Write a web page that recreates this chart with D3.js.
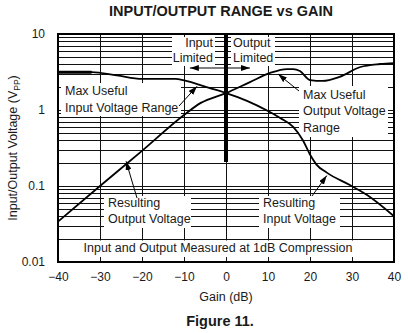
<!DOCTYPE html>
<html>
<head>
<meta charset="utf-8">
<script src="https://cdn.jsdelivr.net/npm/d3@7/dist/d3.min.js"></script>
<style>
  body { margin: 0; background: #fff; }
  svg { display: block; }
  text { font-family: "Liberation Sans", Arial, Helvetica, sans-serif; fill: #1a1a1a; }
</style>
</head>
<body>
<svg id="chart" width="408" height="333"></svg>
<script>
// Axis ticks
const gainTicks = [-40, -30, -20, -10, 0, 10, 20, 30, 40];
const voltTicks = [0.01, 0.1, 1, 10];
const voltTickLabels = ["0.01", "0.1", "1", "10"];

// Max useful input range (input limited) / resulting input (output limited), V_PP vs gain dB
const inputGain  = [-40, -32, -26, -20, -12, -10, -4, 0, 5, 10, 13, 16, 18.3, 20, 21.6, 24, 29.5, 33.6, 40];
const inputVolts = [3.15, 3.15, 2.85, 2.56, 2.56, 2.45, 1.95, 1.67, 1.32, 0.97, 0.78, 0.60, 0.40, 0.26, 0.19, 0.15, 0.103, 0.076, 0.040];

// Resulting output (input limited) / max useful output range (output limited)
const outputGain  = [-40, -30, -20, -10, -6, 0, 5.7, 10.5, 14.5, 16, 17.6, 20, 23, 27, 32, 36.7, 40];
const outputVolts = [0.034, 0.10, 0.29, 0.86, 1.24, 1.67, 2.33, 3.07, 3.46, 3.46, 3.26, 2.48, 2.41, 2.72, 3.68, 4.03, 4.15];

const svg = d3.select("#chart");
const L = 58, R = 394, T = 34, B = 262;

const x = d3.scaleLinear().domain([-40, 40]).range([L, R]);
const y = d3.scaleLog().domain([0.01, 10]).range([B, T]);

// Title
svg.append("text").attr("x", 221).attr("y", 15.5).attr("text-anchor", "middle")
  .style("font-weight", "bold").style("font-size", "14.5px")
  .text("INPUT/OUTPUT RANGE vs GAIN");

const plot = svg.append("g");

// Log grid: every integer multiple within each decade
const hLines = [];
[0.01, 0.1, 1].forEach(dec => { for (let k = 1; k <= 9; k++) if (k > 1 || dec > 0.01) hLines.push(k * dec); });
plot.append("g").selectAll("line").data(hLines).join("line")
  .attr("x1", L).attr("x2", R)
  .attr("y1", d => Math.round(y(d)) + 0.5).attr("y2", d => Math.round(y(d)) + 0.5)
  .attr("stroke", "#111").attr("stroke-width", 1);
plot.append("g").selectAll("line").data(gainTicks.slice(1, -1)).join("line")
  .attr("x1", d => Math.round(x(d)) + 0.5).attr("x2", d => Math.round(x(d)) + 0.5)
  .attr("y1", T).attr("y2", B)
  .attr("stroke", "#111").attr("stroke-width", 1);

// White label panels over the grid
const panels = [
  [172, 37, 215, 66],   // Input Limited
  [231, 37, 275, 66],   // Output Limited
  [61, 83, 181, 116],   // Max Useful Input Voltage Range
  [299, 86, 388, 137],  // Max Useful Output Voltage Range
  [104, 196, 191, 228], // Resulting Output Voltage
  [259, 196, 340, 228], // Resulting Input Voltage
  [59, 240.5, 393, 261] // measurement note
];
plot.append("g").selectAll("rect").data(panels).join("rect")
  .attr("x", d => d[0]).attr("y", d => d[1])
  .attr("width", d => d[2] - d[0]).attr("height", d => d[3] - d[1])
  .attr("fill", "#fff");

// Small ticks along the bottom edge
plot.append("g").selectAll("line").data(gainTicks.slice(1, -1)).join("line")
  .attr("x1", d => Math.round(x(d)) + 0.5).attr("x2", d => Math.round(x(d)) + 0.5)
  .attr("y1", B - 5).attr("y2", B)
  .attr("stroke", "#111").attr("stroke-width", 1);

// Boundary between the input-limited and output-limited regions
plot.append("line")
  .attr("x1", x(0)).attr("x2", x(0)).attr("y1", T).attr("y2", 162)
  .attr("stroke", "#000").attr("stroke-width", 4);

// Curves
const line = d3.line().x(d => x(d[0])).y(d => y(d[1])).curve(d3.curveMonotoneX);
const inputPts = inputGain.map((g, i) => [g, inputVolts[i]]);
const outputPts = outputGain.map((g, i) => [g, outputVolts[i]]);
plot.append("path").attr("d", line(inputPts))
  .attr("fill", "none").attr("stroke", "#000").attr("stroke-width", 1.8);
plot.append("path").attr("d", line(outputPts))
  .attr("fill", "none").attr("stroke", "#000").attr("stroke-width", 1.8);
// heavier flat stretch at low gain
plot.append("path").attr("d", line(inputPts.slice(0, 2)))
  .attr("fill", "none").attr("stroke", "#000").attr("stroke-width", 3);

// Frame
plot.append("rect").attr("x", L).attr("y", T).attr("width", R - L).attr("height", B - T)
  .attr("fill", "none").attr("stroke", "#000").attr("stroke-width", 2);

// Axes
const yAxis = d3.axisLeft(y).tickValues(voltTicks)
  .tickFormat((d, i) => voltTickLabels[i]).tickSize(0).tickPadding(13);
const gy = svg.append("g").attr("transform", `translate(${L},0)`).call(yAxis);
const xAxis = d3.axisBottom(x).tickValues(gainTicks).tickSize(0).tickPadding(10);
const gx = svg.append("g").attr("transform", `translate(0,${B})`).call(xAxis);
[gx, gy].forEach(g => {
  g.select(".domain").remove();
  g.selectAll("text").style("font-size", "12px").style("font-family", null).attr("fill", null);
});

// Axis titles
svg.append("text").attr("x", 226).attr("y", 301).attr("text-anchor", "middle")
  .style("font-size", "12.5px").text("Gain (dB)");
const yt = svg.append("text")
  .attr("transform", `translate(17,${(T + B) / 2}) rotate(-90)`)
  .attr("text-anchor", "middle").style("font-size", "12.5px");
yt.append("tspan").text("Input/Output Voltage (V");
yt.append("tspan").attr("dy", 2.5).style("font-size", "8.5px").text("PP");
yt.append("tspan").attr("dy", -2.5).text(")");

svg.append("text").attr("x", 220).attr("y", 325.5).attr("text-anchor", "middle")
  .style("font-weight", "bold").style("font-size", "14.5px").text("Figure 11.");

// Annotation text
const ann = svg.append("g").style("font-size", "12.5px");
const labels = [
  ["Input", 213, 47, "end"], ["Limited", 213, 62, "end"],
  ["Output", 233, 47, "start"], ["Limited", 233, 62, "start"],
  ["Max Useful", 65, 95, "start"], ["Input Voltage Range", 65, 112, "start"],
  ["Max Useful", 303, 99, "start"], ["Output Voltage", 303, 115, "start"], ["Range", 303, 132, "start"],
  ["Resulting", 108, 207, "start"], ["Output Voltage", 108, 223, "start"],
  ["Resulting", 263, 207, "start"], ["Input Voltage", 263, 223, "start"]
];
ann.selectAll("text").data(labels).join("text")
  .attr("x", d => d[1]).attr("y", d => d[2]).attr("text-anchor", d => d[3]).text(d => d[0]);
svg.append("text").attr("x", 218).attr("y", 252).attr("text-anchor", "middle")
  .style("font-size", "12.5px").text("Input and Output Measured at 1dB Compression");

// Arrowhead marker
svg.append("defs").append("marker").attr("id", "ah")
  .attr("viewBox", "0 0 9 6").attr("refX", 9).attr("refY", 3)
  .attr("markerWidth", 9).attr("markerHeight", 6).attr("markerUnits", "userSpaceOnUse")
  .attr("orient", "auto-start-reverse")
  .append("path").attr("d", "M0,0L9,3L0,6Z").attr("fill", "#000");

// Value on a curve at a given gain (log-linear interpolation)
function at(pts, g) {
  for (let i = 1; i < pts.length; i++) {
    if (g <= pts[i][0]) {
      const [g0, v0] = pts[i - 1], [g1, v1] = pts[i];
      const t = (g - g0) / (g1 - g0);
      return Math.exp(Math.log(v0) + t * (Math.log(v1) - Math.log(v0)));
    }
  }
  return pts[pts.length - 1][1];
}

const leaders = [
  [179, 106, inputPts, -6.9, 2],
  [299, 91, outputPts, 12.4, 3],
  [137, 198, outputPts, -23.8, -3],
  [312, 196, inputPts, 24, 3]
];
svg.append("g").selectAll("line").data(leaders).join("line")
  .attr("x1", d => d[0]).attr("y1", d => d[1])
  .attr("x2", d => x(d[3])).attr("y2", d => y(at(d[2], d[3])) + d[4])
  .attr("stroke", "#000").attr("stroke-width", 1).attr("marker-end", "url(#ah)");

// Input-limited / output-limited double arrow
svg.append("line").attr("x1", x(-8.6)).attr("x2", x(5.7)).attr("y1", 68).attr("y2", 68)
  .attr("stroke", "#000").attr("stroke-width", 1)
  .attr("marker-start", "url(#ah)").attr("marker-end", "url(#ah)");
</script>
</body>
</html>
